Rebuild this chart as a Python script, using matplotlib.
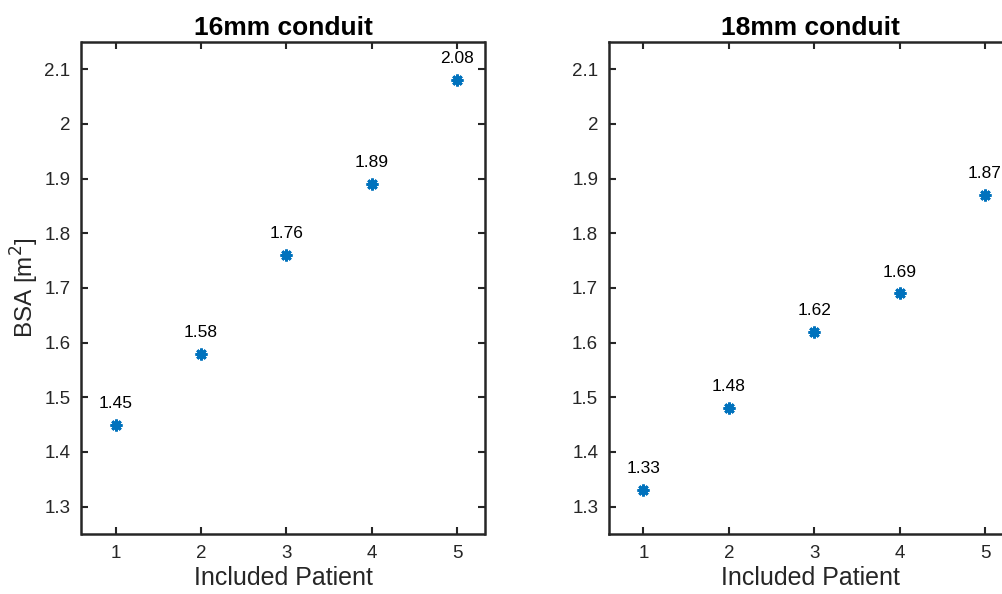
import matplotlib
matplotlib.use("Agg")
import matplotlib.pyplot as plt

patients = [1, 2, 3, 4, 5]
bsa_16mm = [1.45, 1.58, 1.76, 1.89, 2.08]
bsa_18mm = [1.33, 1.48, 1.62, 1.69, 1.87]
titles = ["16mm conduit", "18mm conduit"]
yticks = [1.3, 1.4, 1.5, 1.6, 1.7, 1.8, 1.9, 2.0, 2.1]
yticklabels = ["1.3", "1.4", "1.5", "1.6", "1.7", "1.8", "1.9", "2", "2.1"]

plt.rcParams['font.family'] = ['Liberation Sans', 'DejaVu Sans']
W, H = 1003, 594
fig = plt.figure(figsize=(W / 100, H / 100), dpi=100)

dark = '#262626'
blue = '#0072BD'
axw = 403 / W
axh = 492 / H
bottom = (H - 534) / H
lefts = [81.5 / W, 609.3 / W]

for i, (left, data, title) in enumerate(zip(lefts, [bsa_16mm, bsa_18mm], titles)):
    ax = fig.add_axes([left, bottom, axw, axh])
    ax.plot(patients, data, linestyle='none', marker=(8, 2, 0), markersize=8.5,
            markeredgewidth=2.0, color=blue)
    for x, y in zip(patients, data):
        ax.annotate(f"{y:.2f}", (x, y), xytext=(0, 10), textcoords='offset points',
                    ha='center', va='bottom', fontsize=12.5, color='black')
    ax.set_xlim(0.6, 5.32)
    ax.set_ylim(1.25, 2.15)
    ax.set_xticks(patients)
    ax.set_yticks(yticks)
    ax.set_yticklabels(yticklabels)
    ax.tick_params(direction='in', length=5, width=1.5, colors=dark, labelsize=13.5,
                   top=True, right=True, pad=8)
    for s in ax.spines.values():
        s.set_linewidth(1.8)
        s.set_color(dark)
    ax.set_title(title, fontsize=19, fontweight='bold', pad=5)
    ax.set_xlabel("Included Patient", fontsize=18, color=dark, labelpad=3)
    if i == 0:
        ax.set_ylabel("BSA [m$^2$]", fontsize=17.5, color=dark, labelpad=2)

fig.savefig("out.png", dpi=100)
